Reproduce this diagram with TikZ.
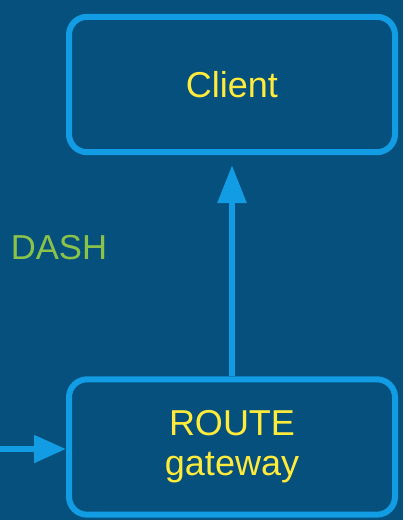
\documentclass[tikz,border=0pt]{standalone}
\usepackage{xcolor}
\usepackage{fontspec}
\setmainfont{Liberation Sans}
\usetikzlibrary{arrows.meta}

\definecolor{bgblue}{RGB}{5,80,124}
\definecolor{edgeblue}{RGB}{18,156,228}
\definecolor{labelyellow}{RGB}{255,235,59}
\definecolor{dashgreen}{RGB}{139,195,74}

\tikzset{
  hostbox/.style={draw=edgeblue, line width=4.5pt, rounded corners=13.5pt,
    minimum width=244.5pt, minimum height=101.5pt, align=center,
    text=labelyellow, font=\fontsize{27}{30}\selectfont},
  flowarrow/.style={draw=edgeblue, line width=4.5pt}
}

\begin{document}
\begin{tikzpicture}[x=0.75pt,y=0.75pt,yscale=-1,xscale=1]
%set diagram to the size of the screenshot
\useasboundingbox (0,0) rectangle (403,520);
\fill [bgblue] (0,0) rectangle (403,520);

%Shape: Rounded Rectangle [id:client]
\node [hostbox] (client) at (232,84.5) {Client};
%Shape: Rounded Rectangle [id:route]
\node [hostbox] (route) at (232,447) {ROUTE\\gateway};

% Text Node
\node [text=dashgreen, font=\fontsize{26}{30}\selectfont] (dash) at (59,248) {DASH};

%Straight Lines [id:up]
\draw [flowarrow, -{Triangle[length=28.5pt,width=21pt]}, shorten >=7.5pt] (route.north) -- (client.south);
%Straight Lines [id:in]
\coordinate (src) at (0,449);
\draw [flowarrow, -{Triangle[length=24pt,width=20pt]}] (src) -- (src -| route.west);

\end{tikzpicture}
\end{document}
